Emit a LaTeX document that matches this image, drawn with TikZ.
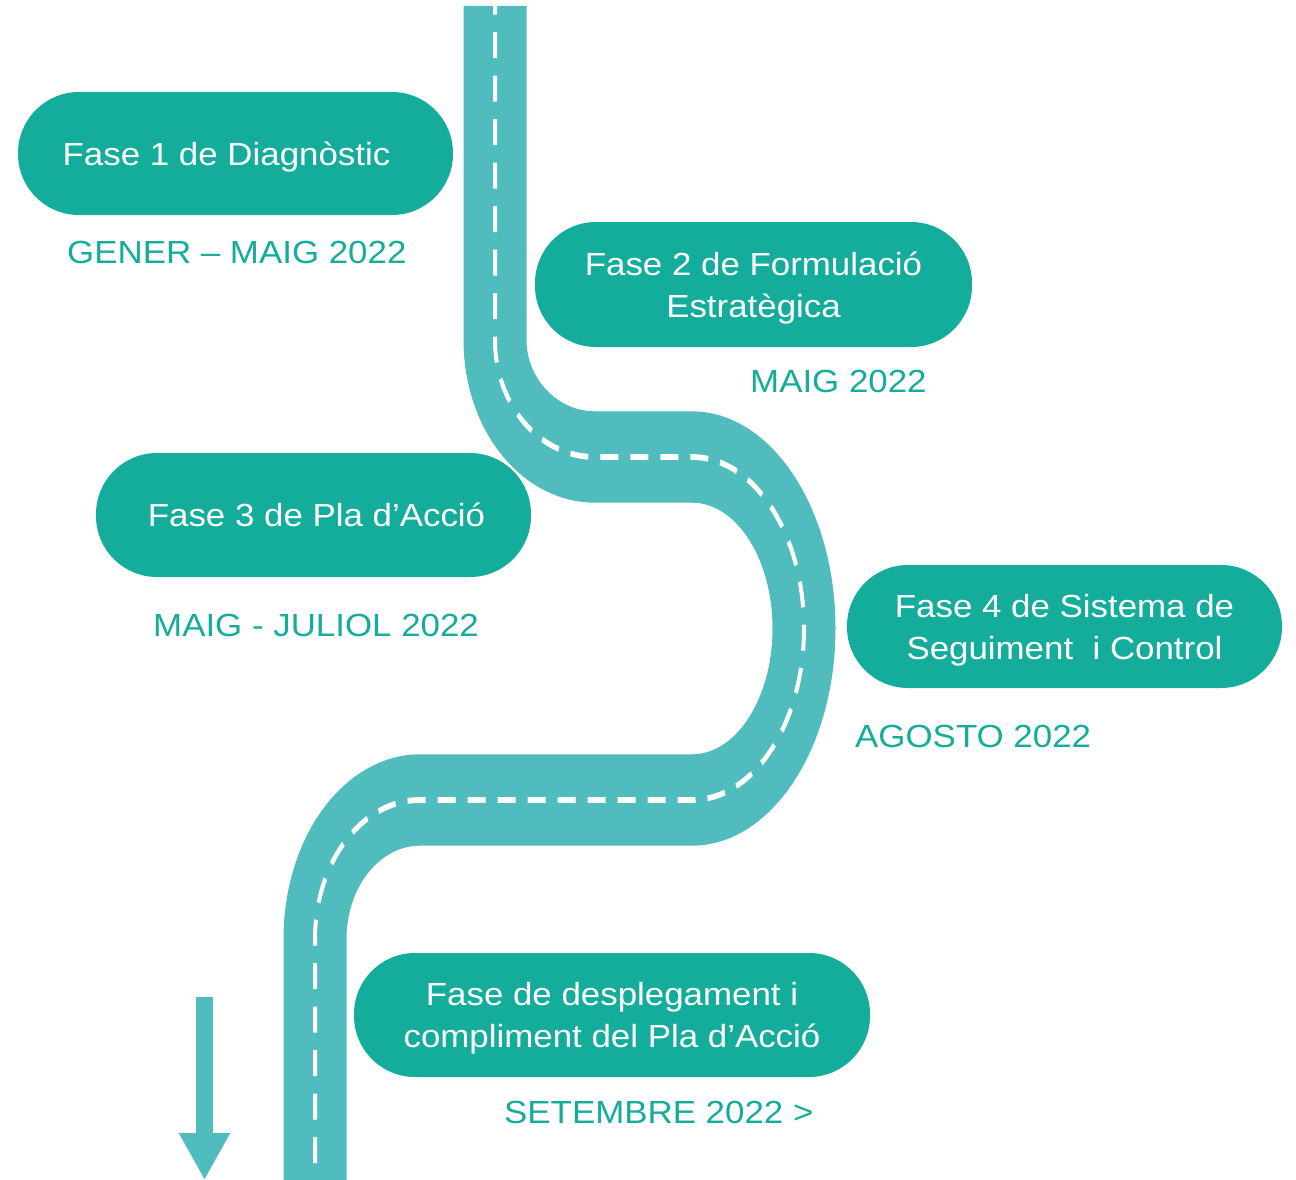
\documentclass[tikz,border=0pt]{standalone}
\usepackage{fontspec}
\setmainfont{Liberation Sans}[FakeStretch=1.09]
\usetikzlibrary{arrows.meta}
\definecolor{roadc}{RGB}{80,188,190}
\definecolor{pillc}{RGB}{20,172,155}
\tikzset{
  pill/.style={fill=pillc, text=white, rounded corners=61pt, inner sep=0pt,
    align=center, font=\fontsize{32}{42}\selectfont, text height=23pt, text depth=0pt},
  pilltwo/.style={pill, text height=65pt},
  datelbl/.style={text=pillc, inner sep=0pt, anchor=base west, font=\fontsize{32}{38}\selectfont},
}
\newcommand\roadpath{(495,6) -- (495,340) .. controls (495,405) and (540,457) .. (595,457) -- (692,457) .. controls (754,457) and (804,534) .. (804,628.5) .. controls (804,723) and (754,800) .. (692,800) -- (420,800) .. controls (362,800) and (315,862) .. (315,939) -- (315,1200)}
\begin{document}
\begin{tikzpicture}[x=1pt,y=-1pt]
\useasboundingbox (0,0) rectangle (1296,1180);
% road
\begin{scope}[transform canvas={yscale=1.45}, y=-0.689655pt]
\draw[roadc, line width=63pt] \roadpath;
\draw[white, line width=4pt, dash pattern=on 18pt off 12pt, dash phase=12pt] \roadpath;
\end{scope}
% arrow
\coordinate (a1) at (204.5,997);
\coordinate (a2) at (204.5,1180);
\draw[roadc, line width=17pt, -{Triangle[width=48pt,length=47pt]}] (a1) -- (a2);
% pills
\node[pill, minimum width=435pt, minimum height=123pt] (p1) at (235.5,153.5) {Fase 1 de Diagnòstic\hspace*{18pt}};
\node[pilltwo, minimum width=437pt, minimum height=125pt] (p2) at (753.5,284.5) {Fase 2 de Formulació\\Estratègica};
\node[pill, minimum width=435pt, minimum height=124pt] (p3) at (313.5,515) {\hspace*{6pt}Fase 3 de Pla d’Acció};
\node[pilltwo, minimum width=435pt, minimum height=123pt] (p4) at (1064.5,626.5) {Fase 4 de Sistema de\\Seguiment\ \ i Control};
\node[pilltwo, minimum width=516pt, minimum height=124pt] (p5) at (612,1015) {Fase de desplegament i\\compliment del Pla d’Acció};
% dates
\node[datelbl] (d1) at (67,263) {GENER – MAIG 2022};
\node[datelbl] (d2) at (750,392) {MAIG 2022};
\node[datelbl] (d3) at (153,636) {MAIG - JULIOL 2022};
\node[datelbl] (d4) at (855,747) {AGOSTO 2022};
\node[datelbl] (d5) at (504,1123) {SETEMBRE 2022 >};
\end{tikzpicture}
\end{document}
